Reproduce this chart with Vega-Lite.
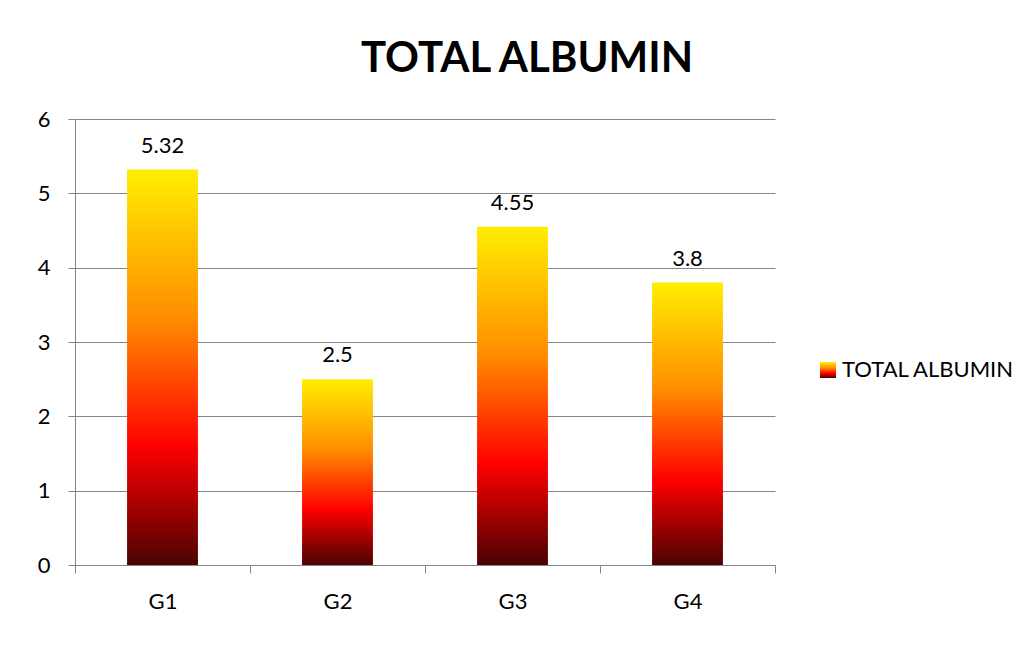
{
  "$schema": "https://vega.github.io/schema/vega-lite/v6.json",
  "width": 700,
  "height": 446,
  "autosize": {"type": "none"},
  "padding": {"left": 75, "top": 119, "right": 261, "bottom": 80},
  "background": "white",
  "title": {"text": "TOTAL ALBUMIN", "font": "Lato", "fontSize": 42, "fontWeight": "bold", "color": "black", "anchor": "middle", "dx": 102, "offset": 27},
  "data": {"values": [
    {"group": "G1", "value": 5.32, "series": "TOTAL ALBUMIN"},
    {"group": "G2", "value": 2.5, "series": "TOTAL ALBUMIN"},
    {"group": "G3", "value": 4.55, "series": "TOTAL ALBUMIN"},
    {"group": "G4", "value": 3.8, "series": "TOTAL ALBUMIN"}
  ]},
  "encoding": {
    "x": {"field": "group", "type": "nominal", "sort": null,
      "scale": {"paddingInner": 0, "paddingOuter": 0},
      "axis": {"title": null, "labelAngle": 0, "tickBand": "extent", "domainColor": "#868686", "tickColor": "#868686", "tickSize": 8, "labelPadding": 18, "labelFont": "Lato", "labelFontSize": 22, "labelColor": "black", "grid": false}},
    "y": {"field": "value", "type": "quantitative",
      "scale": {"domain": [0, 6], "nice": false},
      "axis": {"title": null, "values": [0, 1, 2, 3, 4, 5, 6], "domainColor": "#868686", "tickColor": "#868686", "gridColor": "#868686", "tickSize": 7, "labelPadding": 18, "labelFont": "Lato", "labelFontSize": 22, "labelColor": "black"}}
  },
  "layer": [
    {
      "mark": {"type": "bar", "width": {"band": 0.405}, "strokeWidth": 0,
        "color": {"gradient": "linear", "x1": 0, "y1": 1, "x2": 0, "y2": 0, "stops": [
          {"offset": 0, "color": "#4a0303"},
          {"offset": 0.15, "color": "#a50000"},
          {"offset": 0.3, "color": "#ff0000"},
          {"offset": 0.62, "color": "#ff8c00"},
          {"offset": 1, "color": "#ffee00"}
        ]}},
      "encoding": {
        "stroke": {"field": "series", "type": "nominal", "scale": {"range": ["rgba(0,0,0,0)"]},
          "legend": {"title": null, "orient": "none", "legendX": 742, "legendY": 240, "symbolType": "square", "symbolSize": 256, "symbolStrokeWidth": 0, "symbolOpacity": 1, "labelFont": "Lato", "labelFontSize": 22, "labelLimit": 400, "labelColor": "black", "labelOffset": 3}}
      }
    },
    {
      "mark": {"type": "text", "font": "Lato", "fontSize": 22, "baseline": "alphabetic", "dy": -17, "color": "black"},
      "encoding": {
        "text": {"field": "value", "type": "quantitative"}
      }
    }
  ],
  "config": {"view": {"stroke": null}}
}
